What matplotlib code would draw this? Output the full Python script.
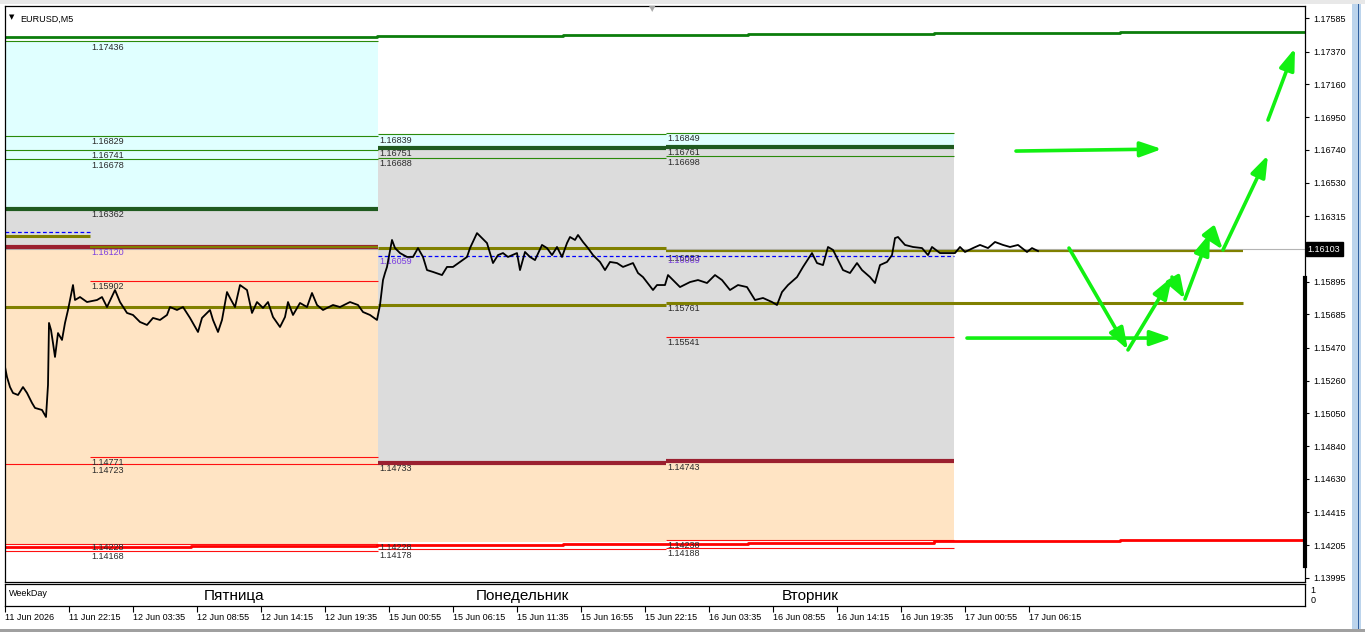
import matplotlib
matplotlib.use("Agg")
import matplotlib.pyplot as plt
from matplotlib.patches import Rectangle

plt.rcParams['font.family'] = ['Liberation Sans', 'DejaVu Sans']

# ---- price series (bar index, close) ----
price_bars = [0, 2, 5, 8, 13, 18, 22, 27, 30, 37, 41, 43, 44, 46, 48, 50, 53, 57, 60, 63,
              68, 70, 75, 82, 92, 97, 102, 110, 115, 122, 128, 135, 142, 148, 155, 162, 165,
              172, 178, 185, 193, 197, 205, 208, 213, 217, 222, 225, 230, 235, 242, 247, 252,
              258, 263, 268, 275, 280, 283, 288, 295, 302, 307, 312, 318, 328, 335, 345, 353,
              358, 365, 372,
              375, 378, 380, 382, 387, 390, 395, 402, 408, 413, 418, 422, 428, 437, 442, 448,
              455, 462, 465, 472, 477, 482, 485, 488, 493, 498, 503, 512, 515, 520, 525, 530,
              537, 542, 547, 552, 557, 562, 565, 570, 573, 578, 583, 588, 595, 600, 605, 612,
              618, 628, 633, 638, 648, 652, 660,
              663, 668, 675, 685, 693, 702, 710, 717, 725, 733, 742, 750, 758, 767, 772, 777,
              783, 792, 798, 807, 812, 818, 823, 828, 833, 838, 845, 852, 857, 865, 870, 875,
              882, 887, 890, 893, 900, 908, 917, 923, 927, 935, 942, 950,
              955, 960, 968, 975, 983, 990, 998, 1005, 1013, 1022, 1027, 1033]
price_vals = [1.15348, 1.15283, 1.15219, 1.15181, 1.15168, 1.15219, 1.15181, 1.15117, 1.15085,
              1.15072, 1.15027, 1.15232, 1.15630, 1.15585, 1.15501, 1.15412, 1.15565, 1.15521,
              1.15630, 1.15713, 1.15873, 1.15777, 1.15796, 1.15764, 1.15777, 1.15796, 1.15732,
              1.15841, 1.15764, 1.15694, 1.15681, 1.15636, 1.15617, 1.15662, 1.15649, 1.15681,
              1.15732, 1.15713, 1.15732, 1.15662, 1.15572, 1.15662, 1.15713, 1.15649, 1.15572,
              1.15649, 1.15828, 1.15790, 1.15732, 1.15873, 1.15841, 1.15694, 1.15764, 1.15726,
              1.15764, 1.15668, 1.15604, 1.15668, 1.15764, 1.15681, 1.15758, 1.15732, 1.15822,
              1.15745, 1.15713, 1.15745, 1.15732, 1.15764, 1.15745, 1.15700, 1.15681, 1.15649,
              1.15745, 1.15905, 1.15950, 1.15989, 1.16162, 1.16110, 1.16078, 1.16053, 1.16053,
              1.16110, 1.16053, 1.15969, 1.15957, 1.15937, 1.15989, 1.15989, 1.16021, 1.16053,
              1.16110, 1.16206, 1.16174, 1.16142, 1.16078, 1.16014, 1.16065, 1.16078, 1.16053,
              1.16078, 1.15969, 1.16085, 1.16053, 1.16033, 1.16130, 1.16110, 1.16065, 1.16117,
              1.16053, 1.16142, 1.16181, 1.16162, 1.16194, 1.16149, 1.16110, 1.16065, 1.16021,
              1.15969, 1.16021, 1.16014, 1.15989, 1.16014, 1.15950, 1.15924, 1.15841, 1.15873,
              1.15873,
              1.15937, 1.15905, 1.15860, 1.15892, 1.15905, 1.15886, 1.15937, 1.15905, 1.15841,
              1.15873, 1.15860, 1.15777, 1.15790, 1.15764, 1.15745, 1.15828, 1.15873, 1.15924,
              1.15989, 1.16078, 1.16014, 1.16001, 1.16117, 1.16098, 1.16033, 1.15969, 1.15950,
              1.16014, 1.15969, 1.15924, 1.15886, 1.16001, 1.16021, 1.16065, 1.16174, 1.16181,
              1.16130, 1.16117, 1.16110, 1.16065, 1.16117, 1.16078, 1.16078, 1.16078,
              1.16117, 1.16085, 1.16110, 1.16130, 1.16110, 1.16149, 1.16130, 1.16117, 1.16130,
              1.16085, 1.16110, 1.16091]
bid = 1.16103

# ---- day boundaries (bar index) ----
day_start = {'thu': 0, 'fri': 85, 'mon': 373, 'tue': 661, 'wed': 949, 'end': 1238}
day_names = ['Пятница', 'Понедельник', 'Вторник']

# zones: (from, to, low, high, kind)
zones = [('thu', 'mon', 1.16362, 1.17436, 'buy'), ('thu', 'mon', 1.16120, 1.16362, 'mid'),
         ('thu', 'mon', 1.14213, 1.16120, 'sell'),
         ('mon', 'tue', 1.16751, 1.16839, 'buy'), ('mon', 'tue', 1.14733, 1.16751, 'mid'),
         ('mon', 'tue', 1.14228, 1.14733, 'sell'),
         ('tue', 'wed', 1.16761, 1.16849, 'buy'), ('tue', 'wed', 1.14743, 1.16761, 'mid'),
         ('tue', 'wed', 1.14238, 1.14743, 'sell')]

# levels: (from, to, price, style)
levels = [('thu', 'mon', 1.17436, 'g'), ('thu', 'mon', 1.16829, 'g'), ('thu', 'mon', 1.16741, 'g'),
          ('thu', 'mon', 1.16678, 'g'), ('thu', 'mon', 1.16362, 'G'), ('thu', 'mon', 1.16120, 'M'),
          ('thu', 'fri', 1.16187, 'O'), ('fri', 'mon', 1.16120, 'o'), ('thu', 'mon', 1.15732, 'O'),
          ('fri', 'mon', 1.15902, 'r'), ('fri', 'mon', 1.14771, 'r'), ('thu', 'mon', 1.14723, 'r'),
          ('thu', 'mon', 1.14213, 'r'), ('thu', 'mon', 1.14168, 'r'),
          ('mon', 'tue', 1.16839, 'g'), ('mon', 'tue', 1.16751, 'G'), ('mon', 'tue', 1.16688, 'g'),
          ('mon', 'tue', 1.16110, 'O'), ('mon', 'tue', 1.15745, 'O'), ('mon', 'tue', 1.14733, 'M'),
          ('mon', 'tue', 1.14178, 'r'),
          ('tue', 'wed', 1.16849, 'g'), ('tue', 'wed', 1.16761, 'G'), ('tue', 'wed', 1.16698, 'g'),
          ('tue', 'end', 1.16091, 'o'), ('tue', 'end', 1.15761, 'O'), ('tue', 'wed', 1.15541, 'r'),
          ('tue', 'wed', 1.14743, 'M'), ('tue', 'wed', 1.14238, 'r'), ('tue', 'wed', 1.14188, 'r')]
dashed = [('thu', 'fri', 1.16213), ('mon', 'wed', 1.16059)]

labels = {'fri': ['1.17436', '1.16829', '1.16741', '1.16678', '1.16362', '1.16120', '1.15902',
                  '1.14771', '1.14723', '1.14228', '1.14168'],
          'mon': ['1.16839', '1.16751', '1.16688', '1.16059', '1.14733', '1.14228', '1.14178'],
          'tue': ['1.16849', '1.16761', '1.16698', '1.16083', '1.16069', '1.15761', '1.15541',
                  '1.14743', '1.14238', '1.14188']}
blue_labels = ['1.16120', '1.16059', '1.16069']

# long-term stepped levels
step_bars = [0, 186, 372, 558, 743, 929, 1115, 1300]
top_steps = [1.17462, 1.17466, 1.17470, 1.17476, 1.17482, 1.17488, 1.17496]
bot_steps = [1.14194, 1.14201, 1.14207, 1.14214, 1.14221, 1.14229, 1.14237]

# forecast arrows: (bar0, price0, bar1, price1)
arrows = [(1011, 1.16732, 1157, 1.16745), (962, 1.15533, 1167, 1.15533),
          (1064, 1.16110, 1123, 1.15457), (1123, 1.15457, 1167, 1.15924),
          (1167, 1.15924, 1180, 1.15783), (1180, 1.15783, 1205, 1.16206),
          (1205, 1.16206, 1218, 1.16098), (1218, 1.16098, 1263, 1.16706),
          (1263, 1.16931, 1290, 1.17392)]

ytick_vals = [1.17585, 1.17370, 1.17160, 1.16950, 1.16740, 1.16530, 1.16315, 1.15895, 1.15685,
              1.15470, 1.15260, 1.15050, 1.14840, 1.14630, 1.14415, 1.14205, 1.13995]
xtick_bars = [0, 64, 128, 192, 256, 320, 384, 448, 512, 576, 640, 704, 768, 832, 896, 960, 1024]
xtick_labels = ['11 Jun 2026', '11 Jun 22:15', '12 Jun 03:35', '12 Jun 08:55', '12 Jun 14:15',
                '12 Jun 19:35', '15 Jun 00:55', '15 Jun 06:15', '15 Jun 11:35', '15 Jun 16:55',
                '15 Jun 22:15', '16 Jun 03:35', '16 Jun 08:55', '16 Jun 14:15', '16 Jun 19:35',
                '17 Jun 00:55', '17 Jun 06:15']

zone_col = {'buy': '#E0FFFF', 'mid': '#DCDCDC', 'sell': '#FFE4C4'}
lvl_style = {'g': ('#2A8A0A', 0.8), 'G': ('#1F5A1F', 3.0), 'M': ('#9B2030', 3.0),
             'O': ('#808000', 2.2), 'o': ('#808000', 1.6), 'r': ('#FF1010', 0.8)}

W, H = 1365, 632
fig = plt.figure(figsize=(W / 100, H / 100), dpi=100)
fig.patch.set_facecolor('white')

ax = fig.add_axes([5 / W, 1 - 582 / H, 1300 / W, 576 / H])
ax.set_xlim(0, 1300)
ax.set_ylim(1.13969, 1.17662)

for a, b, lo, hi, kind in zones:
    ax.fill_between([day_start[a], day_start[b]], lo, hi, color=zone_col[kind], lw=0, zorder=0)

for a, b, p, st in levels:
    c, lw = lvl_style[st]
    ax.hlines(p, day_start[a], day_start[b], colors=c, lw=lw, zorder=2)
for a, b, p in dashed:
    ax.hlines(p, day_start[a], day_start[b], colors='#0000FF', lw=0.9, linestyles=(0, (3, 2)), zorder=2)

ax.step(step_bars, top_steps + [top_steps[-1]], where='post', color='#0B7D0B', lw=2.0, zorder=2)
ax.step(step_bars, bot_steps + [bot_steps[-1]], where='post', color='#FF0000', lw=2.0, zorder=2)

for d, labs in labels.items():
    for s in labs:
        col = '#7B3FE0' if s in blue_labels else '#2A2A2A'
        ax.annotate(s, (day_start[d], float(s)), xytext=(1, -1), textcoords='offset points',
                    va='top', ha='left', fontsize=6.5, color=col, zorder=4)

ax.axhline(bid, color='#B4B4B4', lw=0.8, zorder=1)
ax.plot(price_bars, price_vals, color='black', lw=1.3, zorder=5)

for x0, y0, x1, y1 in arrows:
    ax.annotate('', xy=(x1, y1), xytext=(x0, y0),
                arrowprops=dict(arrowstyle='-|>,head_length=1.0,head_width=0.35', color='#12F012',
                                lw=2.6, shrinkA=0, shrinkB=0, mutation_scale=13), zorder=6)

ax.set_xticks([])
ax.yaxis.tick_right()
ax.set_yticks(ytick_vals)
ax.set_yticklabels([f'{v:.5f}' for v in ytick_vals])
ax.tick_params(axis='y', direction='out', length=3, pad=3, labelsize=6.5, width=0.8)
for sp in ax.spines.values():
    sp.set_linewidth(0.9)
ax.annotate('1.16103', (1.0, bid), xycoords=('axes fraction', 'data'), xytext=(2, 0),
            textcoords='offset points', va='center', ha='left', fontsize=6.5, color='white',
            bbox=dict(boxstyle='square,pad=0.25', fc='black', ec='black'))
ax.plot([1300, 1300], [1.14070, 1.15920], color='black', lw=3, clip_on=False, zorder=7)
ax.text(0.003, 0.985, '▼', transform=ax.transAxes, fontsize=5, va='top', family='DejaVu Sans')
ax.text(0.012, 0.985, 'EURUSD,M5', transform=ax.transAxes, fontsize=6.5, va='top')

# weekday sub-window
sub = fig.add_axes([5 / W, 1 - 606 / H, 1300 / W, 22 / H])
sub.set_xlim(0, 1300)
sub.set_ylim(0, 1)
sub.set_yticks([])
sub.set_xticks(xtick_bars)
sub.set_xticklabels(xtick_labels)
sub.tick_params(axis='x', direction='out', length=4, pad=1, labelsize=6.5, width=0.8)
for lbl in sub.get_xticklabels():
    lbl.set_ha('left')
for sp in sub.spines.values():
    sp.set_linewidth(0.9)
sub.text(4, 0.55, 'WeekDay', fontsize=6.5, va='center')
for i, name in enumerate(day_names):
    d = ['fri', 'mon', 'tue'][i]
    sub.text(day_start[d] + 144, 0.45, name, fontsize=11, ha='center', va='center')
sub.text(1.004, 0.72, '1', transform=sub.transAxes, fontsize=6.5, va='center')
sub.text(1.004, 0.25, '0', transform=sub.transAxes, fontsize=6.5, va='center')

# window chrome
fig.patches.append(Rectangle((1352 / W, 0), 9 / W, 1, transform=fig.transFigure,
                             fc='#BCD4EC', ec='none'))
fig.patches.append(Rectangle((1357.5 / W, 0), 1 / W, 1, transform=fig.transFigure,
                             fc='#3060A0', ec='none'))
fig.patches.append(Rectangle((0, 1 - 4 / H), 1, 4 / H, transform=fig.transFigure,
                             fc='#E8E8E8', ec='none'))
fig.patches.append(Rectangle((0, 0), 1, 3 / H, transform=fig.transFigure,
                             fc='#A0A0A0', ec='none'))
fig.text(652 / W, 1 - 9 / H, '▼', fontsize=6, color='#A8A8A8', ha='center', va='center',
         family='DejaVu Sans')

fig.savefig('out.png', dpi=100)
